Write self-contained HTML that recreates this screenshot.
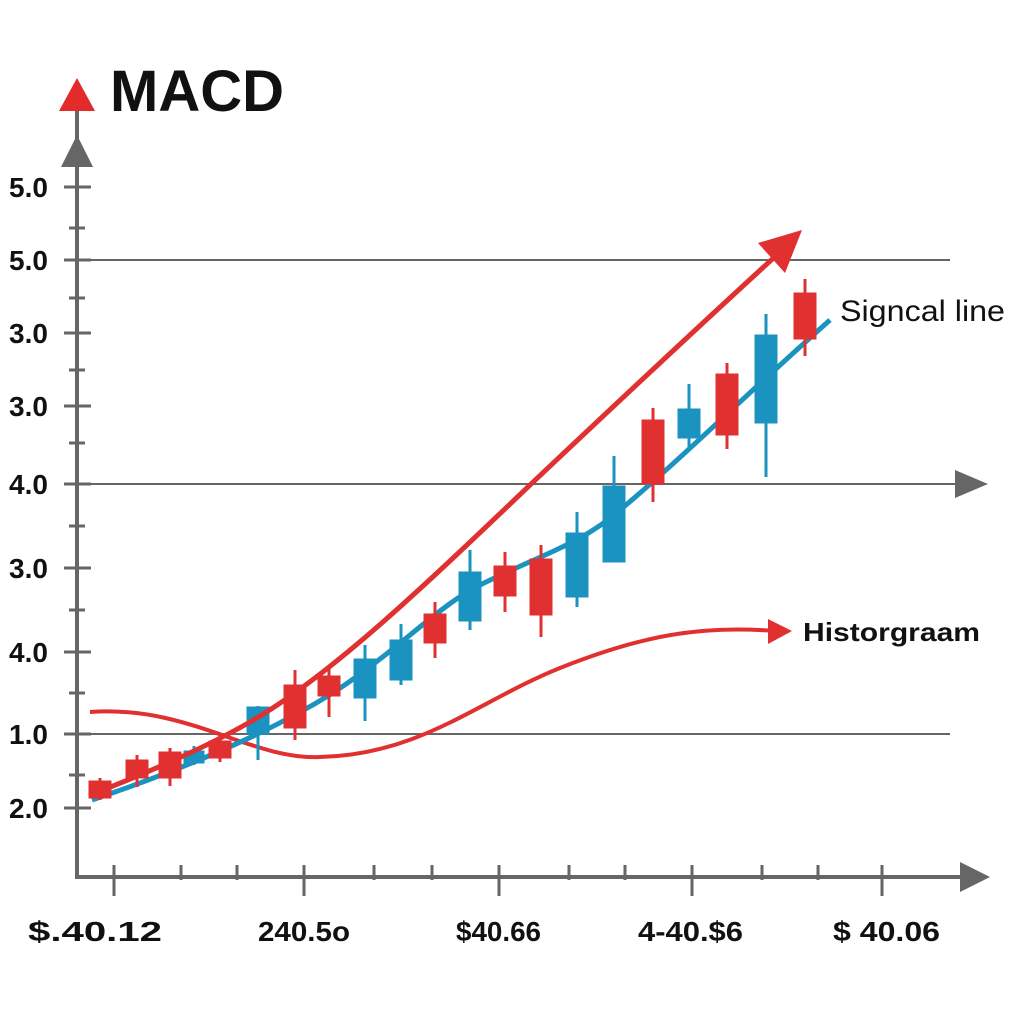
<!DOCTYPE html>
<html><head><meta charset="utf-8"><style>
html,body{margin:0;padding:0;background:#fff;}
svg{display:block;}
text{font-family:"Liberation Sans",sans-serif;fill:#111;}
</style></head><body>
<svg width="1024" height="1024" viewBox="0 0 1024 1024">
<g stroke="#666" stroke-width="2">
<line x1="77" y1="260" x2="950" y2="260"/>
<line x1="77" y1="484" x2="960" y2="484"/>
<line x1="77" y1="734" x2="950" y2="734"/>
</g>
<polygon points="955,470 988,484 955,498" fill="#666"/>
<g stroke="#666" stroke-width="4">
<line x1="77" y1="110" x2="77" y2="879"/>
<line x1="75" y1="877" x2="960" y2="877"/>
</g>
<polygon points="61,167 77,135 93,167" fill="#666"/>
<polygon points="960,862 990,877 960,892" fill="#666"/>
<polygon points="59,111 77,78 95,111" fill="#e32b2b"/>
<g stroke="#666" stroke-width="3">
<line x1="64" y1="187" x2="91" y2="187"/><line x1="64" y1="260" x2="91" y2="260"/>
<line x1="64" y1="333" x2="91" y2="333"/><line x1="64" y1="406" x2="91" y2="406"/>
<line x1="64" y1="484" x2="91" y2="484"/><line x1="64" y1="568" x2="91" y2="568"/>
<line x1="64" y1="652" x2="91" y2="652"/><line x1="64" y1="734" x2="91" y2="734"/>
<line x1="64" y1="808" x2="91" y2="808"/>
<line x1="69" y1="228" x2="85" y2="228"/><line x1="69" y1="298" x2="85" y2="298"/>
<line x1="69" y1="370" x2="85" y2="370"/><line x1="69" y1="443" x2="85" y2="443"/>
<line x1="69" y1="526" x2="85" y2="526"/><line x1="69" y1="610" x2="85" y2="610"/>
<line x1="69" y1="693" x2="85" y2="693"/><line x1="69" y1="775" x2="85" y2="775"/>
</g>
<g stroke="#666" stroke-width="3">
<line x1="114" y1="865" x2="114" y2="896"/><line x1="181" y1="865" x2="181" y2="880"/>
<line x1="237" y1="865" x2="237" y2="880"/><line x1="304" y1="865" x2="304" y2="896"/>
<line x1="374" y1="865" x2="374" y2="880"/><line x1="432" y1="865" x2="432" y2="880"/>
<line x1="499" y1="865" x2="499" y2="896"/><line x1="569" y1="865" x2="569" y2="880"/>
<line x1="625" y1="865" x2="625" y2="880"/><line x1="692" y1="865" x2="692" y2="896"/>
<line x1="762" y1="865" x2="762" y2="880"/><line x1="818" y1="865" x2="818" y2="880"/>
<line x1="882" y1="865" x2="882" y2="896"/>
</g>
<text x="110" y="111" font-size="58" font-weight="bold" fill="#111">MACD</text>
<g font-size="28" font-weight="bold">
<text x="9" y="197">5.0</text><text x="9" y="270">5.0</text>
<text x="9" y="343">3.0</text><text x="9" y="416">3.0</text>
<text x="9" y="494">4.0</text><text x="9" y="578">3.0</text>
<text x="9" y="662">4.0</text><text x="9" y="744">1.0</text>
<text x="9" y="818">2.0</text>
</g>
<g font-size="28" font-weight="bold">
<text x="28" y="941" textLength="134" lengthAdjust="spacingAndGlyphs">$.40.12</text>
<text x="258" y="941" textLength="92" lengthAdjust="spacingAndGlyphs">240.5o</text>
<text x="456" y="941" textLength="85" lengthAdjust="spacingAndGlyphs">$40.66</text>
<text x="638" y="941" textLength="105" lengthAdjust="spacingAndGlyphs">4-40.$6</text>
<text x="833" y="941" textLength="107" lengthAdjust="spacingAndGlyphs">$ 40.06</text>
</g>
<path d="M90,712 C190,705 250,760 320,757 C420,755 480,700 560,668 C640,636 700,625 775,631" fill="none" stroke="#e03030" stroke-width="4"/>
<polygon points="768,619 792,631 768,644" fill="#e03030"/>
<text x="803" y="641" font-size="26" font-weight="bold" textLength="177" lengthAdjust="spacingAndGlyphs">Historgraam</text>
<path d="M92,800 C180,770 250,740 300,712 C380,670 430,610 480,585 C540,555 580,545 620,510 C680,460 740,400 830,320" fill="none" stroke="#1a93c0" stroke-width="5"/>
<text x="840" y="321" font-size="30" textLength="165" lengthAdjust="spacingAndGlyphs">Signcal line</text>
<g stroke-width="3">
<g stroke="#e03030" fill="#e03030">
<line x1="100" y1="778" x2="100" y2="800"/><rect x="90" y="782" width="20" height="15"/>
<line x1="137" y1="755" x2="137" y2="787"/><rect x="127" y="761" width="20" height="16"/>
<line x1="170" y1="748" x2="170" y2="786"/><rect x="160" y="753" width="20" height="24"/>
<line x1="220" y1="738" x2="220" y2="762"/><rect x="210" y="742" width="20" height="15"/>
<line x1="295" y1="670" x2="295" y2="740"/><rect x="285" y="686" width="20" height="41"/>
<line x1="329" y1="667" x2="329" y2="717"/><rect x="319" y="677" width="20" height="18"/>
<line x1="435" y1="602" x2="435" y2="658"/><rect x="425" y="615" width="20" height="27"/>
<line x1="505" y1="552" x2="505" y2="612"/><rect x="495" y="567" width="20" height="28"/>
<line x1="541" y1="545" x2="541" y2="637"/><rect x="531" y="560" width="20" height="54"/>
<line x1="653" y1="408" x2="653" y2="502"/><rect x="643" y="421" width="20" height="62"/>
<line x1="727" y1="363" x2="727" y2="449"/><rect x="717" y="375" width="20" height="59"/>
<line x1="805" y1="279" x2="805" y2="356"/><rect x="795" y="294" width="20" height="44"/>
</g>
<g stroke="#1a93c0" fill="#1a93c0">
<line x1="194" y1="746" x2="194" y2="765"/><rect x="185" y="752" width="18" height="10"/>
<line x1="258" y1="706" x2="258" y2="760"/><rect x="248" y="708" width="20" height="25"/>
<line x1="365" y1="645" x2="365" y2="721"/><rect x="355" y="660" width="20" height="37"/>
<line x1="401" y1="624" x2="401" y2="685"/><rect x="391" y="641" width="20" height="38"/>
<line x1="470" y1="550" x2="470" y2="630"/><rect x="460" y="573" width="20" height="47"/>
<line x1="577" y1="512" x2="577" y2="607"/><rect x="567" y="534" width="20" height="62"/>
<line x1="614" y1="456" x2="614" y2="561"/><rect x="604" y="487" width="20" height="74"/>
<line x1="689" y1="384" x2="689" y2="450"/><rect x="679" y="410" width="20" height="27"/>
<line x1="766" y1="314" x2="766" y2="477"/><rect x="756" y="336" width="20" height="86"/>
</g>
</g>
<path d="M90,795 C160,768 210,745 250,722 C330,676 420,590 530,485 C620,400 700,325 780,252" fill="none" stroke="#e03030" stroke-width="5"/>
<polygon points="758,243 802,230 785,273" fill="#e03030"/>
</svg>
</body></html>
